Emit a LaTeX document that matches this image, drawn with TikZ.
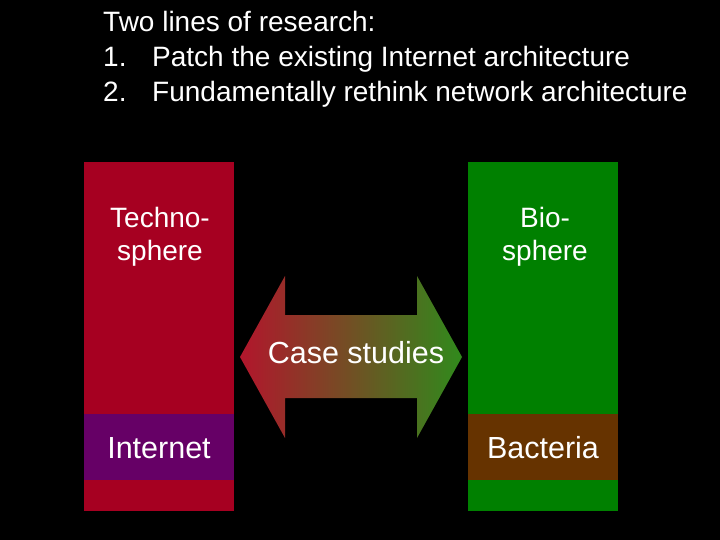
\documentclass[tikz,border=0pt]{standalone}
\usepackage{fontspec}
\setmainfont{Liberation Sans}
\usetikzlibrary{positioning}
\definecolor{technored}{RGB}{166, 0, 33}
\definecolor{netpurple}{RGB}{102, 0, 102}
\definecolor{biogreen}{RGB}{0, 128, 0}
\definecolor{bactbrown}{RGB}{102, 51, 0}
\definecolor{arrowred}{RGB}{178, 22, 44}
\definecolor{arrowgreen}{RGB}{48, 138, 28}

\begin{document}
\begin{tikzpicture}[x=1pt, y=-1pt,
  headline/.style={text=white, inner sep=0pt, anchor=base west,
    font=\fontsize{28}{30}\selectfont},
  spheretext/.style={text=white, inner sep=0pt, align=center,
    font=\fontsize{28}{33}\selectfont},
  bandtext/.style={text=white, inner sep=0pt, anchor=base,
    font=\fontsize{30.5}{34}\selectfont}
]
  % slide background
  \fill[black] (0,0) rectangle (720,540);
  \useasboundingbox (0,0) rectangle (720,540);

  % title
  \node[headline] (title) at (103,32) {Two lines of research:};
  \node[headline] (one) at (103,67) {\makebox[49pt][l]{1.}Patch the existing Internet architecture};
  \node[headline] (two) at (103,102) {\makebox[49pt][l]{2.}Fundamentally rethink network architecture};

  % the two spheres
  \fill[technored] (84,162) rectangle (234,511);
  \fill[netpurple] (84,414) rectangle (234,480);
  \fill[biogreen] (468,162) rectangle (618,511);
  \fill[bactbrown] (468,414) rectangle (618,480);

  \node[spheretext, anchor=north] (techno) at (160,207) {Techno-\\sphere};
  \node[spheretext, anchor=north] (bio) at (545,207) {Bio-\\sphere};
  \node[bandtext] (internet) at (159,458) {Internet};
  \node[bandtext] (bacteria) at (543,458) {Bacteria};

  % double arrow between them
  \shade[left color=arrowred, right color=arrowgreen]
    (240,357) -- (285,276) -- (285,315) -- (417,315) -- (417,276)
    -- (462,357) -- (417,438) -- (417,398) -- (285,398) -- (285,438) -- cycle;
  \node[bandtext] (cases) at (356,363) {Case studies};
\end{tikzpicture}
\end{document}
